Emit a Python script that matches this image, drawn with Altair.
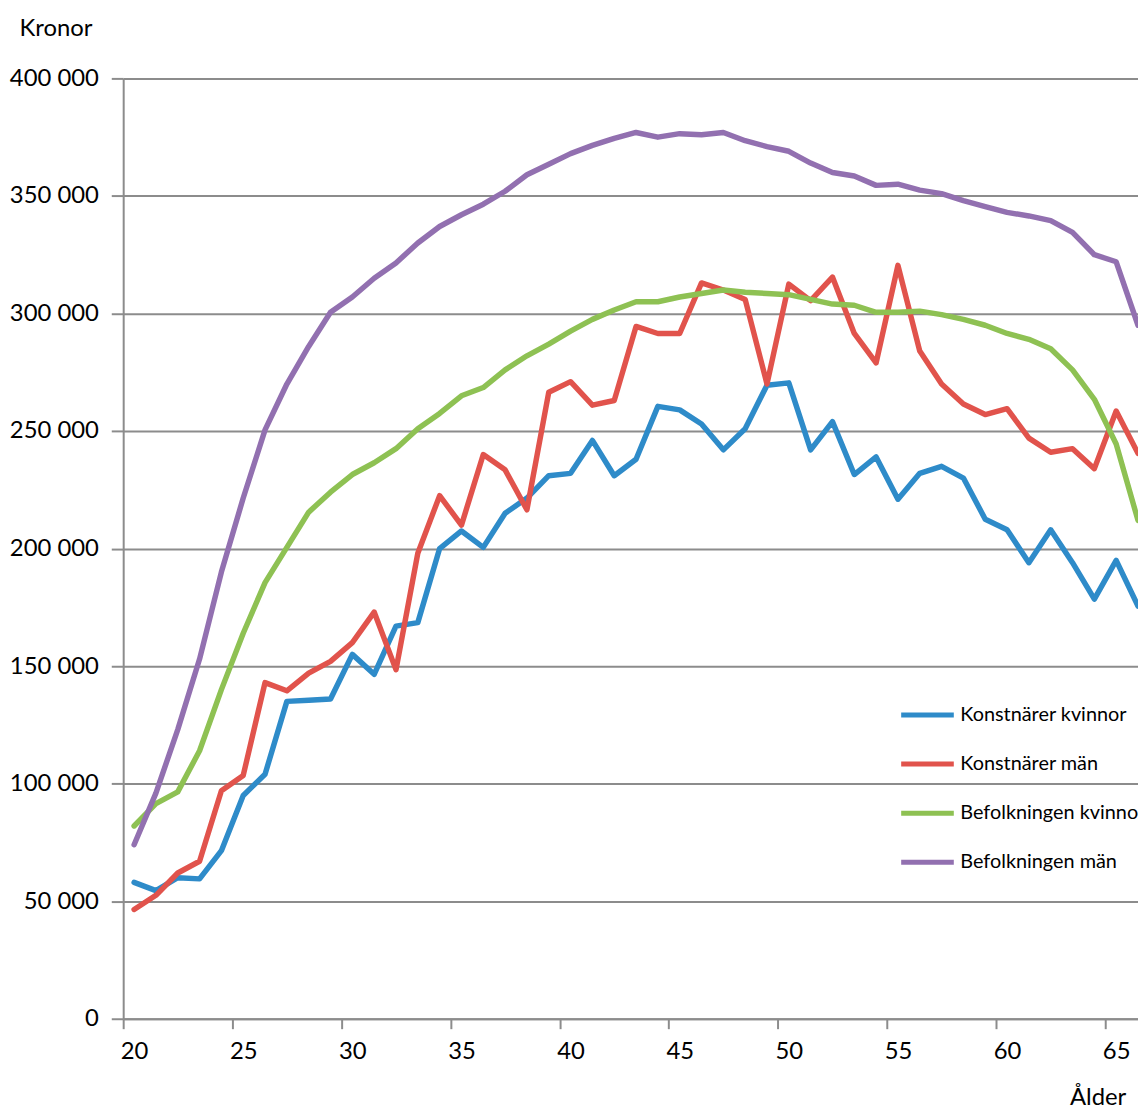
import altair as alt
import pandas as pd

ages = list(range(20, 67))

series_names = ["Konstnärer kvinnor", "Konstnärer män", "Befolkningen kvinnor", "Befolkningen män"]
series_colors = ["#2E8BC9", "#E1534C", "#8EC153", "#9270B0"]

konstnarer_kvinnor = [58000, 54500, 60000, 59500, 71500, 95000, 104000, 135000, 135500, 136000,
                      155000, 146500, 167000, 168500, 200000, 207500, 200500, 215000, 221500, 231000,
                      232000, 246000, 231000, 238000, 260500, 259000, 253000, 242000, 251000, 269500,
                      270500, 242000, 254000, 231500, 239000, 221000, 232000, 235000, 230000, 212500,
                      208000, 194000, 208000, 194000, 178500, 195000, 175500]

konstnarer_man = [46500, 52500, 62000, 67000, 97000, 103500, 143000, 139500, 147000, 152000,
                  160000, 173000, 148500, 198000, 222500, 210000, 240000, 233500, 216500, 266500,
                  271000, 261000, 263000, 294500, 291500, 291500, 313000, 310000, 306000, 270000,
                  312500, 305500, 315500, 291500, 279000, 320500, 284000, 270000, 261500, 257000,
                  259500, 247000, 241000, 242500, 234000, 258500, 240500]

befolkningen_kvinnor = [82000, 91500, 96500, 114000, 140000, 164000, 185500, 200500, 215500, 224000,
                        231500, 236500, 242500, 251000, 257500, 265000, 268500, 276000, 282000, 287000,
                        292500, 297500, 301500, 305000, 305000, 307000, 308500, 310000, 309000, 308500,
                        308000, 306000, 304000, 303500, 300500, 300500, 301000, 299500, 297500, 295000,
                        291500, 289000, 285000, 276000, 263500, 244500, 212000]

befolkningen_man = [74000, 96000, 123000, 153000, 190000, 221500, 250500, 270000, 286000, 300500,
                    307000, 315000, 321500, 330000, 337000, 342000, 346500, 352000, 359000, 363500,
                    368000, 371500, 374500, 377000, 375000, 376500, 376000, 377000, 373500, 371000,
                    369000, 364000, 360000, 358500, 354500, 355000, 352500, 351000, 348000, 345500,
                    343000, 341500, 339500, 334500, 325000, 322000, 295000]

y_ticks = list(range(0, 400001, 50000))
x_label_ages = list(range(20, 66, 5))

all_series = [konstnarer_kvinnor, konstnarer_man, befolkningen_kvinnor, befolkningen_man]
rows = []
for name, vals in zip(series_names, all_series):
    for a, v in zip(ages, vals):
        rows.append({"age": a, "kr": v, "serie": name})
df = pd.DataFrame(rows)

x_tick_values = [a - 0.5 for a in x_label_ages]

FONT = "Lato"
GRID = "#8C8C8C"
TXT = "#000000"

chart = alt.Chart(df).mark_line(
    strokeWidth=5.5, strokeCap="round", strokeJoin="round", clip=True
).encode(
    x=alt.X(
        "age:Q",
        scale=alt.Scale(domain=[19.5, 66.0], nice=False, zero=False),
        axis=alt.Axis(
            values=x_tick_values,
            labelExpr="format(datum.value + 0.5, 'd')",
            labelOffset=11,
            grid=False,
            tickSize=10, tickWidth=2, tickColor=GRID,
            domainColor=GRID, domainWidth=2,
            labelFont=FONT, labelFontSize=24, labelColor=TXT, labelPadding=11,
            labelFlush=False, labelOverlap=False,
            title="Ålder", titleFont=FONT, titleFontSize=24, titleFontWeight="normal",
            titleColor=TXT, titleX=953, titleY=86, titleAlign="left",
            titleBaseline="alphabetic",
        ),
    ),
    y=alt.Y(
        "kr:Q",
        scale=alt.Scale(domain=[0, 400000], nice=False),
        axis=alt.Axis(
            values=y_ticks,
            labelExpr="replace(format(datum.value, ','), ',', ' ')",
            grid=True, gridColor=GRID, gridWidth=2,
            tickSize=12, tickWidth=2, tickColor=GRID,
            domainColor=GRID, domainWidth=2,
            labelFont=FONT, labelFontSize=24, labelColor=TXT, labelPadding=13,
            labelFlush=False, labelOverlap=False,
            title="Kronor", titleFont=FONT, titleFontSize=24, titleFontWeight="normal",
            titleColor=TXT, titleAngle=0, titleX=-105, titleY=-50, titleAlign="left",
            titleBaseline="middle",
        ),
    ),
    color=alt.Color(
        "serie:N",
        scale=alt.Scale(domain=series_names, range=series_colors),
        sort=series_names,
        legend=alt.Legend(
            orient="none", legendX=781, legendY=612, title=None,
            symbolType="stroke", symbolSize=2809, symbolStrokeWidth=5,
            labelFont=FONT, labelFontSize=20, labelColor=TXT, labelOffset=4,
            labelLimit=400, rowPadding=10.5,
        ),
    ),
).properties(
    width=1022,
    height=947,
    autosize=alt.AutoSizeParams(type="none"),
    padding={"left": 116, "top": 67, "right": 0, "bottom": 89},
).configure_view(strokeWidth=0).configure(background="white")

chart.save("out.html", embed_options={"renderer": "svg", "actions": False})
